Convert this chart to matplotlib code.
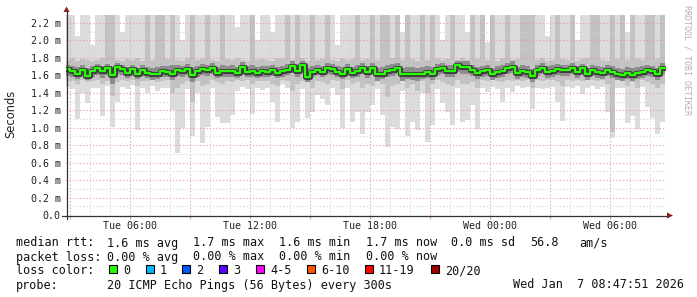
import numpy as np
import matplotlib
matplotlib.use("Agg")
from matplotlib import pyplot as plt, patches
from matplotlib.lines import Line2D
from matplotlib.ticker import MultipleLocator
from matplotlib.transforms import Affine2D

W, H = 697, 297

# smoke columns, 15 minutes each, starting Tue 02:45 (hours since Tue 00:00)
start_hour = 2.75
col_hours = 0.25
view_start = 2.7975   # Tue 02:47:51
view_end = 32.7975    # Wed 08:47:51

median = [1.67, 1.65, 1.62, 1.66, 1.59, 1.65, 1.68, 1.65, 1.68, 1.60, 1.70, 1.67, 1.63, 1.67, 1.62, 1.66, 1.63, 1.61, 1.62, 1.65,
          1.64, 1.62, 1.66, 1.65, 1.67, 1.60, 1.65, 1.67, 1.66, 1.68, 1.63, 1.65, 1.65, 1.65, 1.63, 1.70, 1.64, 1.65, 1.63, 1.65,
          1.64, 1.66, 1.63, 1.65, 1.66, 1.71, 1.65, 1.72, 1.58, 1.64, 1.66, 1.64, 1.68, 1.67, 1.64, 1.62, 1.67, 1.63, 1.65, 1.68,
          1.64, 1.68, 1.61, 1.62, 1.65, 1.66, 1.68, 1.61, 1.62, 1.62, 1.61, 1.62, 1.64, 1.62, 1.67, 1.68, 1.65, 1.65, 1.72, 1.70,
          1.70, 1.66, 1.63, 1.65, 1.66, 1.62, 1.64, 1.65, 1.68, 1.70, 1.63, 1.65, 1.64, 1.59, 1.66, 1.68, 1.64, 1.65, 1.67, 1.66,
          1.66, 1.68, 1.64, 1.68, 1.62, 1.66, 1.64, 1.63, 1.66, 1.64, 1.62, 1.60, 1.63, 1.60, 1.63, 1.64, 1.66, 1.65, 1.62, 1.68]

ping_min = [1.47, 1.44, 1.10, 1.40, 1.28, 1.46, 1.45, 1.14, 1.48, 1.01, 1.30, 1.47, 1.44, 1.49, 0.97, 1.45, 1.40, 1.48, 1.42, 1.46,
            1.46, 1.20, 0.71, 1.00, 1.44, 0.90, 1.40, 0.83, 1.01, 1.45, 1.12, 1.05, 1.05, 1.15, 1.42, 1.47, 1.44, 1.16, 1.46, 1.43,
            1.46, 1.29, 1.07, 1.50, 1.45, 1.00, 1.07, 1.44, 1.11, 1.18, 1.37, 1.33, 1.26, 1.45, 1.37, 1.00, 1.46, 1.07, 1.18, 0.93,
            1.18, 1.26, 1.44, 1.15, 0.78, 1.01, 0.99, 1.42, 0.91, 1.07, 0.97, 1.40, 0.84, 1.03, 1.44, 1.28, 1.18, 1.03, 1.45, 1.07,
            1.09, 1.26, 0.99, 1.46, 1.41, 1.47, 1.44, 1.30, 1.46, 1.41, 1.48, 1.45, 1.47, 1.22, 1.46, 1.44, 1.45, 1.47, 1.30, 1.08,
            1.47, 1.45, 1.48, 1.39, 1.46, 1.48, 1.44, 1.47, 1.18, 0.88, 1.46, 1.45, 1.05, 1.14, 0.99, 1.47, 1.24, 1.11, 0.93, 1.07]

ping_max = [2.4, 2.4, 2.05, 2.4, 2.4, 1.95, 2.4, 2.4, 2.4, 2.4, 2.4, 2.1, 2.4, 2.4, 2.4, 2.4, 1.9, 2.4, 2.4, 2.4,
            2.4, 2.4, 2.4, 2.0, 2.4, 2.4, 2.4, 2.4, 1.92, 2.4, 2.4, 2.4, 2.4, 2.4, 2.15, 2.4, 2.4, 2.4, 2.0, 2.4,
            2.4, 2.1, 2.4, 2.4, 2.4, 2.4, 2.4, 2.4, 2.4, 2.0, 2.4, 2.4, 2.4, 2.4, 1.95, 2.4, 2.4, 2.4, 2.4, 2.4,
            2.4, 2.4, 2.4, 2.4, 2.4, 2.4, 2.4, 2.1, 2.4, 2.4, 2.4, 2.4, 2.4, 2.4, 2.4, 2.0, 2.4, 2.4, 2.4, 2.4,
            2.1, 2.4, 2.4, 2.4, 1.98, 2.4, 2.4, 2.4, 2.4, 2.4, 2.4, 2.4, 2.4, 2.4, 2.4, 2.4, 2.05, 2.4, 2.4, 2.4,
            2.4, 2.4, 2.0, 2.4, 2.4, 2.4, 2.4, 2.4, 2.4, 2.4, 2.4, 2.4, 2.1, 2.4, 2.4, 2.4, 2.4, 2.4, 2.4, 2.4]

p10 = [1.54, 1.53, 1.50, 1.55, 1.52, 1.54, 1.55, 1.50, 1.54, 1.36, 1.52, 1.55, 1.54, 1.55, 1.48, 1.54, 1.53, 1.55, 1.52, 1.54,
       1.55, 1.40, 1.45, 1.50, 1.54, 1.30, 1.54, 1.48, 1.50, 1.55, 1.52, 1.50, 1.53, 1.52, 1.55, 1.54, 1.55, 1.50, 1.54, 1.53,
       1.54, 1.50, 1.48, 1.55, 1.53, 1.42, 1.50, 1.54, 1.52, 1.45, 1.54, 1.52, 1.50, 1.55, 1.53, 1.44, 1.55, 1.50, 1.52, 1.46,
       1.50, 1.48, 1.55, 1.50, 1.35, 1.48, 1.50, 1.54, 1.45, 1.50, 1.42, 1.54, 1.40, 1.50, 1.55, 1.52, 1.50, 1.48, 1.55, 1.50,
       1.50, 1.52, 1.45, 1.55, 1.53, 1.55, 1.54, 1.52, 1.55, 1.53, 1.55, 1.54, 1.55, 1.45, 1.55, 1.54, 1.55, 1.55, 1.52, 1.48,
       1.55, 1.54, 1.55, 1.53, 1.55, 1.55, 1.54, 1.55, 1.50, 0.95, 1.55, 1.54, 1.48, 1.52, 1.45, 1.55, 1.52, 1.50, 1.45, 1.50]

p90 = [1.78, 1.80, 1.77, 1.79, 1.78, 1.76, 1.78, 1.80, 2.4, 2.4, 1.78, 1.77, 1.79, 1.78, 1.80, 1.77, 2.4, 1.78, 2.4, 2.4,
       1.79, 2.4, 1.78, 1.77, 1.80, 2.4, 1.78, 1.79, 2.4, 1.78, 1.77, 2.4, 1.79, 1.78, 1.80, 1.78, 1.77, 2.4, 1.78, 1.79,
       1.78, 1.77, 1.80, 1.79, 2.4, 1.78, 2.4, 1.80, 1.77, 2.4, 1.78, 1.79, 2.4, 1.78, 1.77, 1.80, 1.78, 1.79, 2.4, 1.78,
       1.79, 2.4, 1.78, 2.4, 2.4, 1.80, 2.4, 1.78, 2.4, 1.79, 1.77, 2.4, 1.78, 2.4, 1.80, 1.78, 1.79, 2.4, 1.78, 1.80,
       1.78, 2.4, 1.79, 2.4, 1.78, 2.4, 1.77, 1.80, 2.4, 1.78, 1.79, 2.4, 2.4, 2.4, 1.78, 1.80, 1.77, 1.78, 2.4, 1.79,
       1.78, 2.4, 1.77, 1.79, 1.80, 2.4, 2.4, 1.78, 1.77, 2.4, 1.79, 2.4, 1.78, 2.4, 1.80, 1.78, 2.4, 2.4, 1.79, 2.4]

p25 = [1.59, 1.58, 1.56, 1.60, 1.55, 1.58, 1.60, 1.57, 1.60, 1.50, 1.62, 1.60, 1.57, 1.60, 1.56, 1.59, 1.57, 1.55, 1.56, 1.58,
       1.58, 1.55, 1.59, 1.58, 1.60, 1.52, 1.58, 1.60, 1.59, 1.61, 1.57, 1.58, 1.58, 1.58, 1.57, 1.62, 1.58, 1.58, 1.57, 1.58,
       1.58, 1.59, 1.57, 1.58, 1.60, 1.63, 1.58, 1.64, 1.52, 1.58, 1.60, 1.58, 1.61, 1.60, 1.58, 1.56, 1.60, 1.57, 1.58, 1.61,
       1.57, 1.61, 1.54, 1.56, 1.58, 1.59, 1.61, 1.54, 1.56, 1.55, 1.54, 1.56, 1.57, 1.55, 1.60, 1.61, 1.58, 1.58, 1.64, 1.62,
       1.62, 1.59, 1.56, 1.58, 1.59, 1.55, 1.57, 1.58, 1.61, 1.63, 1.56, 1.58, 1.57, 1.52, 1.59, 1.61, 1.57, 1.58, 1.60, 1.59,
       1.59, 1.61, 1.57, 1.61, 1.55, 1.59, 1.57, 1.56, 1.59, 1.57, 1.55, 1.53, 1.56, 1.53, 1.56, 1.57, 1.59, 1.58, 1.55, 1.61]

p75 = [1.72, 1.71, 1.70, 1.72, 1.68, 1.71, 1.73, 1.71, 1.73, 1.70, 1.74, 1.72, 1.70, 1.72, 1.69, 1.72, 1.70, 1.68, 1.70, 1.71,
       1.71, 1.72, 1.72, 1.71, 1.73, 1.70, 1.71, 1.73, 1.72, 1.74, 1.70, 1.72, 1.71, 1.72, 1.70, 1.75, 1.71, 1.72, 1.70, 1.71,
       1.71, 1.72, 1.70, 1.71, 1.73, 1.76, 1.72, 1.77, 1.68, 1.71, 1.72, 1.71, 1.74, 1.73, 1.71, 1.70, 1.73, 1.70, 1.72, 1.74,
       1.71, 1.74, 1.69, 1.70, 1.72, 1.73, 1.74, 1.69, 1.70, 1.70, 1.69, 1.70, 1.71, 1.70, 1.73, 1.74, 1.72, 1.72, 1.77, 1.76,
       1.76, 1.72, 1.70, 1.71, 1.72, 1.69, 1.71, 1.72, 1.74, 1.76, 1.70, 1.72, 1.71, 1.67, 1.72, 1.74, 1.71, 1.72, 1.73, 1.72,
       1.72, 1.74, 1.71, 1.73, 1.69, 1.72, 1.71, 1.70, 1.72, 1.71, 1.69, 1.67, 1.70, 1.68, 1.70, 1.71, 1.72, 1.71, 1.69, 1.74]

hour_ticks = [6, 12, 18, 24, 30]
hour_labels = ["Tue 06:00", "Tue 12:00", "Tue 18:00", "Wed 00:00", "Wed 06:00"]
y_ticks = [0.0, 0.2, 0.4, 0.6, 0.8, 1.0, 1.2, 1.4, 1.6, 1.8, 2.0, 2.2]
y_labels = ["0.0", "0.2 m", "0.4 m", "0.6 m", "0.8 m", "1.0 m", "1.2 m",
            "1.4 m", "1.6 m", "1.8 m", "2.0 m", "2.2 m"]

rtt_stats = ["1.6 ms avg", "1.7 ms max", "1.6 ms min", "1.7 ms now", "0.0 ms sd", "56.8", "am/s"]
loss_stats = ["0.00 % avg", "0.00 % max", "0.00 % min", "0.00 % now"]
loss_names = ["0", "1", "2", "3", "4-5", "6-10", "11-19", "20/20"]
loss_colors = ["#26ff00", "#00b8ff", "#0059ff", "#5e00ff", "#ff00fe", "#ff5500", "#ff0000", "#a10000"]
probe_text = "20 ICMP Echo Pings (56 Bytes) every 300s"
stamp_text = "Wed Jan  7 08:47:51 2026"

MONO = "DejaVu Sans Mono"

fig = plt.figure(figsize=(W / 100, H / 100), dpi=100)
fig.patch.set_facecolor("white")
# pixel coordinates measured from the top-left corner
pix = Affine2D().scale(1 / W, -1 / H).translate(0, 1) + fig.transFigure

ax = fig.add_axes([66 / W, 82 / H, 600 / W, 200 / H])
ax.set_facecolor("white")

n = len(median)
edges = start_hour + col_hours * np.arange(n + 1)


def ext(v):
    return np.append(v, v[-1])


# smoke: outer pings light, inner pings darker
ax.fill_between(edges, ext(ping_min), ext(ping_max), step="post", color="#dcdcdc", lw=0, zorder=1)
ax.fill_between(edges, ext(p10), ext(p90), step="post", color="#c2c2c2", lw=0, zorder=1.1)
ax.fill_between(edges, ext(p25), ext(p75), step="post", color="#8c8c8c", lw=0, zorder=1.3)
ax.step(edges, ext(median), where="post", color="#3c3c3c", lw=3.6, zorder=1.4)
ax.step(edges, ext(median), where="post", color=loss_colors[0], lw=1.6, zorder=3)

ax.set_xlim(view_start, view_end)
ax.set_ylim(0, 200 / 87.27)

# grid: red dotted majors, grey dotted minors (drawn over the light smoke only)
ax.set_xticks(np.arange(3, 33, 3))
ax.set_xticklabels([hour_labels[hour_ticks.index(h)] if h in hour_ticks else "" for h in range(3, 33, 3)])
ax.xaxis.set_minor_locator(MultipleLocator(1))
ax.set_yticks(y_ticks)
ax.set_yticklabels(y_labels)
ax.yaxis.set_minor_locator(MultipleLocator(0.1))
ax.grid(which="minor", color="#d2d2d2", ls=(0, (1, 2)), lw=0.8)
ax.grid(which="major", color="#e49a9a", ls=(0, (1, 2)), lw=0.8)
ax.xaxis.set_zorder(1.2)
ax.yaxis.set_zorder(1.2)
ax.tick_params(axis="x", which="major", length=3, width=0.8, color="#e49a9a", pad=1.2,
               labelsize=7.2, labelfontfamily=MONO, labelcolor="#222222")
ax.tick_params(axis="y", which="major", length=0, pad=3.8,
               labelsize=7.2, labelfontfamily=MONO, labelcolor="#222222")
ax.tick_params(which="minor", length=0)
for s in ax.spines.values():
    s.set_visible(False)

# axes with arrow heads
fig.add_artist(Line2D([62, 668], [215.5, 215.5], transform=pix, color="#333333", lw=0.9))
fig.add_artist(Line2D([66.5, 66.5], [219, 11], transform=pix, color="#333333", lw=0.9))
fig.add_artist(patches.Polygon([[667, 212.5], [667, 218.5], [673, 215.5]], closed=True,
                               transform=pix, color="#9a1a1a", lw=0))
fig.add_artist(patches.Polygon([[63.5, 12], [69.5, 12], [66.5, 6.5]], closed=True,
                               transform=pix, color="#9a1a1a", lw=0))

fig.text(11, 114, "Seconds", transform=pix, rotation=90, ha="center", va="center",
         fontsize=8.3, family="DejaVu Sans", color="#222222")
fig.text(687, 5, "RRDTOOL / TOBI OETIKER", transform=pix, rotation=270, ha="center", va="top",
         fontsize=6, family=MONO, color="#b0b0b0")

# legend block
leg = dict(transform=pix, fontsize=8.5, family=MONO, color="#111111", va="center_baseline")
fig.text(16, 241.5, "median rtt:", **leg)
for x, s in zip([107, 193, 279, 366, 451, 530, 579], rtt_stats):
    fig.text(x, 241.5, s, **leg)
fig.text(16, 255.5, "packet loss:", **leg)
for x, s in zip([107, 193, 279, 366], loss_stats):
    fig.text(x, 255.5, s, **leg)
fig.text(16, 269.5, "loss color:", **leg)
for x, name, c in zip([109, 146, 182, 219, 256, 307, 365, 431], loss_names, loss_colors):
    fig.add_artist(patches.Rectangle((x, 273), 8, -8, transform=pix, facecolor=c,
                                     edgecolor="black", lw=0.8))
    fig.text(x + 14, 269.5, name, **leg)
fig.text(16, 283.5, "probe:", **leg)
fig.text(107, 283.5, probe_text, **leg)
fig.text(513, 283.5, stamp_text, **leg)

fig.savefig("out.png", dpi=100, facecolor="white")
